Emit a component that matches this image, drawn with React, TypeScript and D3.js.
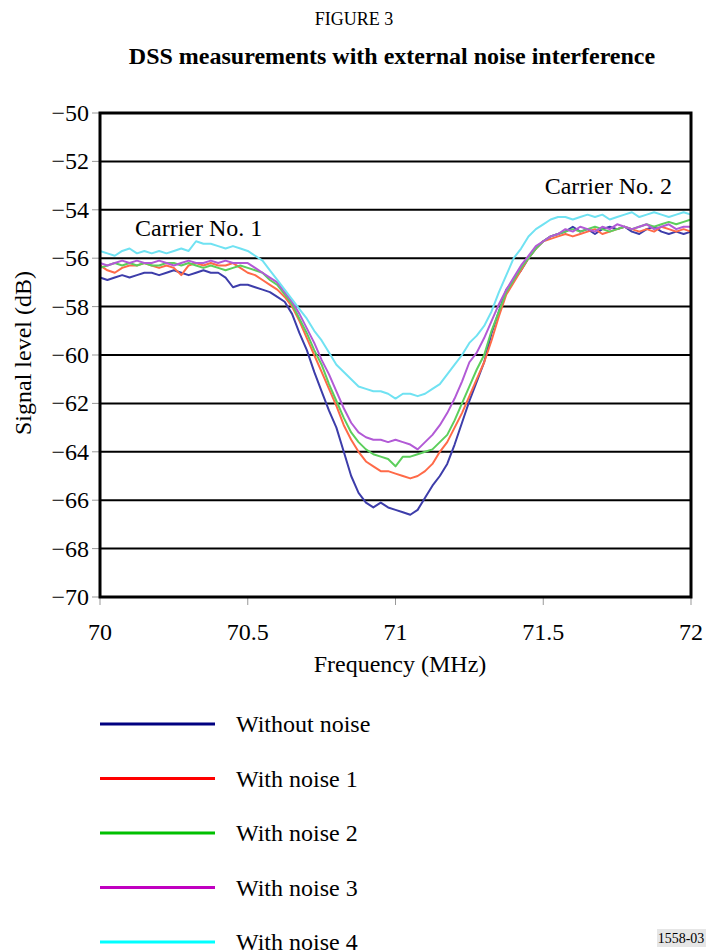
import React, { useEffect, useRef } from 'react';
import * as d3 from 'd3';

// frequency axis, 0.025 MHz steps from 70 to 72
const freqs: number[] = d3.range(81).map(i => 70 + i * 0.025);

const withoutNoise = [
  -56.8, -56.9, -56.8, -56.7, -56.8, -56.7, -56.6, -56.6, -56.7, -56.6,
  -56.5, -56.6, -56.7, -56.6, -56.5, -56.6, -56.6, -56.8, -57.2, -57.1,
  -57.1, -57.2, -57.3, -57.4, -57.6, -57.8, -58.3, -59.1, -59.8, -60.7,
  -61.5, -62.3, -63.0, -64.0, -65.0, -65.7, -66.1, -66.3, -66.1, -66.3,
  -66.4, -66.5, -66.6, -66.4, -65.9, -65.4, -65.0, -64.5, -63.7, -62.8,
  -61.9, -61.1, -60.3, -59.1, -58.2, -57.3, -56.9, -56.5, -56.0, -55.6,
  -55.3, -55.1, -55.0, -54.9, -54.7, -54.9, -54.8, -55.0, -54.8, -54.7,
  -54.8, -54.7, -54.9, -55.0, -54.8, -54.7, -54.9, -55.0, -54.9, -55.0,
  -54.9,
];

const withNoise1 = [
  -56.3, -56.5, -56.6, -56.4, -56.3, -56.3, -56.2, -56.3, -56.4, -56.3,
  -56.4, -56.7, -56.3, -56.2, -56.3, -56.2, -56.3, -56.3, -56.2, -56.4,
  -56.6, -56.7, -56.9, -57.1, -57.3, -57.6, -58.0, -58.6, -59.3, -60.0,
  -60.7, -61.4, -62.1, -62.9, -63.5, -64.0, -64.4, -64.6, -64.8, -64.8,
  -64.9, -65.0, -65.1, -65.0, -64.8, -64.5, -64.0, -63.6, -63.0, -62.4,
  -61.7, -61.0, -60.3, -59.4, -58.4, -57.5, -57.0, -56.5, -56.0, -55.6,
  -55.3, -55.2, -55.1, -55.0, -55.1, -55.0, -54.9, -54.8, -55.0, -54.9,
  -54.8, -54.7, -54.8, -54.9, -54.8, -54.9, -54.7, -54.8, -54.9, -54.8,
  -54.9,
];

const withNoise2 = [
  -56.4, -56.3, -56.2, -56.3, -56.2, -56.3, -56.2, -56.3, -56.3, -56.2,
  -56.2, -56.3, -56.2, -56.3, -56.4, -56.3, -56.4, -56.5, -56.4, -56.3,
  -56.4, -56.5, -56.6, -56.9, -57.1, -57.5, -57.9, -58.5, -59.1, -59.8,
  -60.4, -61.2, -61.9, -62.6, -63.2, -63.6, -63.9, -64.1, -64.2, -64.3,
  -64.6, -64.2, -64.2, -64.1, -64.0, -63.9, -63.6, -63.3, -62.7, -62.0,
  -61.3, -60.6, -60.0, -59.0, -58.2, -57.4, -56.9, -56.4, -56.0, -55.6,
  -55.3, -55.1, -55.0, -54.9, -54.8, -54.9, -54.8, -54.7, -54.8, -54.9,
  -54.8, -54.7, -54.8, -54.7, -54.6, -54.7, -54.6, -54.5, -54.6, -54.5,
  -54.4,
];

const withNoise3 = [
  -56.2, -56.3, -56.2, -56.1, -56.2, -56.1, -56.2, -56.2, -56.1, -56.2,
  -56.3, -56.2, -56.1, -56.2, -56.2, -56.1, -56.2, -56.1, -56.2, -56.2,
  -56.2, -56.4, -56.6, -56.8, -57.0, -57.4, -57.8, -58.3, -58.9, -59.5,
  -60.2, -60.8, -61.5, -62.2, -62.8, -63.2, -63.4, -63.5, -63.5, -63.6,
  -63.5, -63.6, -63.7, -63.9, -63.6, -63.3, -62.9, -62.4, -61.8, -61.1,
  -60.3, -59.9, -59.3, -58.6, -57.9, -57.3, -56.8, -56.3, -55.9, -55.5,
  -55.3, -55.1, -55.0, -54.8, -54.9, -54.7, -54.8, -54.9, -54.7, -54.8,
  -54.6, -54.7, -54.8, -54.7, -54.6, -54.8, -54.7, -54.6, -54.8, -54.7,
  -54.7,
];

const withNoise4 = [
  -55.7, -55.8, -55.9, -55.7, -55.6, -55.8, -55.7, -55.8, -55.7, -55.8,
  -55.7, -55.6, -55.7, -55.3, -55.4, -55.4, -55.5, -55.6, -55.5, -55.6,
  -55.7, -55.9, -56.1, -56.5, -56.9, -57.3, -57.7, -58.1, -58.5, -59.0,
  -59.4, -59.9, -60.4, -60.7, -61.0, -61.3, -61.4, -61.5, -61.5, -61.6,
  -61.8, -61.6, -61.6, -61.7, -61.6, -61.4, -61.2, -60.8, -60.4, -60.0,
  -59.5, -59.2, -58.8, -58.2, -57.4, -56.7, -56.0, -55.6, -55.1, -54.8,
  -54.6, -54.4, -54.3, -54.3, -54.4, -54.3, -54.2, -54.3, -54.2, -54.4,
  -54.3, -54.2, -54.1, -54.3, -54.2, -54.1, -54.2, -54.3, -54.2, -54.1,
  -54.2,
];

const seriesNames = ['Without noise', 'With noise 1', 'With noise 2', 'With noise 3', 'With noise 4'];
const seriesValues = [withoutNoise, withNoise1, withNoise2, withNoise3, withNoise4];
// plotted lines are a bit washed out, legend swatches are pure colours
const lineColors = ['#3d3daa', '#ff6a48', '#5ccf5c', '#b25ad6', '#70e2f2'];
const legendColors = ['#000080', '#ff0000', '#00c000', '#c000c0', '#00ffff'];

const yTicks = d3.range(-70, -49, 2);
const xTicks = [70, 70.5, 71, 71.5, 72];

const FONT = '"Liberation Serif", "Times New Roman", serif';

const App = () => {
  const ref = useRef<SVGSVGElement | null>(null);

  useEffect(() => {
    const svg = d3.select(ref.current);
    svg.selectAll('*').remove();

    const left = 100, right = 691, top = 113, bottom = 597;
    const x = d3.scaleLinear().domain([70, 72]).range([left, right]);
    const y = d3.scaleLinear().domain([-70, -50]).range([bottom, top]);

    // titles
    svg.append('text')
      .attr('x', 354).attr('y', 25)
      .attr('text-anchor', 'middle')
      .style('font-family', FONT).style('font-size', '18px')
      .text('FIGURE 3');
    svg.append('text')
      .attr('x', 392).attr('y', 64)
      .attr('text-anchor', 'middle')
      .style('font-family', FONT).style('font-size', '24px').style('font-weight', 'bold')
      .text('DSS measurements with external noise interference');

    // small grey ticks outside the frame
    svg.selectAll('.ytick')
      .data(yTicks)
      .enter()
      .append('line')
      .attr('x1', left - 8).attr('x2', left)
      .attr('y1', d => y(d)).attr('y2', d => y(d))
      .style('stroke', '#999').style('stroke-width', 1);
    svg.selectAll('.xtick')
      .data(xTicks)
      .enter()
      .append('line')
      .attr('x1', d => x(d)).attr('x2', d => x(d))
      .attr('y1', bottom).attr('y2', bottom + 8)
      .style('stroke', '#999').style('stroke-width', 1);

    // horizontal grid
    svg.selectAll('.grid')
      .data(yTicks.slice(1, -1))
      .enter()
      .append('line')
      .attr('x1', left).attr('x2', right)
      .attr('y1', d => y(d)).attr('y2', d => y(d))
      .style('stroke', '#000').style('stroke-width', 2);

    // curves
    const line = d3.line<number>()
      .x((d, i) => x(freqs[i]))
      .y(d => y(d));
    seriesValues.forEach((vals, i) => {
      svg.append('path')
        .datum(vals)
        .attr('d', line)
        .style('fill', 'none')
        .style('stroke', lineColors[i])
        .style('stroke-width', 2)
        .style('stroke-linejoin', 'round');
    });

    // frame
    svg.append('rect')
      .attr('x', left).attr('y', top)
      .attr('width', right - left).attr('height', bottom - top)
      .style('fill', 'none').style('stroke', '#000').style('stroke-width', 3);

    // tick labels
    svg.selectAll('.ylab')
      .data(yTicks)
      .enter()
      .append('text')
      .attr('x', 89).attr('y', d => y(d) + 8)
      .attr('text-anchor', 'end')
      .style('font-family', FONT).style('font-size', '24px')
      .text(d => d3.format('')(d).replace('-', '\u2212'));
    svg.selectAll('.xlab')
      .data(xTicks)
      .enter()
      .append('text')
      .attr('x', d => x(d)).attr('y', 640)
      .attr('text-anchor', 'middle')
      .style('font-family', FONT).style('font-size', '24px')
      .text(d => String(d));

    svg.append('text')
      .attr('x', 400).attr('y', 672)
      .attr('text-anchor', 'middle')
      .style('font-family', FONT).style('font-size', '24px')
      .text('Frequency (MHz)');
    svg.append('text')
      .attr('transform', 'translate(31,353) rotate(-90)')
      .attr('text-anchor', 'middle')
      .style('font-family', FONT).style('font-size', '24px')
      .text('Signal level (dB)');

    svg.append('text')
      .attr('x', 135).attr('y', 236)
      .style('font-family', FONT).style('font-size', '24px')
      .text('Carrier No. 1');
    svg.append('text')
      .attr('x', 672).attr('y', 194)
      .attr('text-anchor', 'end')
      .style('font-family', FONT).style('font-size', '24px')
      .text('Carrier No. 2');

    // legend (last entry runs off the bottom edge, as in the original page)
    const legend = svg.selectAll('.legend')
      .data(seriesNames)
      .enter()
      .append('g')
      .attr('transform', (d, i) => `translate(0,${724 + i * 54.5})`);
    legend.append('line')
      .attr('x1', 100).attr('x2', 215)
      .attr('y1', 0).attr('y2', 0)
      .style('stroke', (d, i) => legendColors[i])
      .style('stroke-width', 3);
    legend.append('text')
      .attr('x', 236).attr('y', 8)
      .style('font-family', FONT).style('font-size', '24px')
      .text(d => d);

    // figure reference
    svg.append('rect')
      .attr('x', 657).attr('y', 929).attr('width', 49).attr('height', 18)
      .style('fill', '#e6e6e6');
    svg.append('text')
      .attr('x', 681).attr('y', 943)
      .attr('text-anchor', 'middle')
      .style('font-family', FONT).style('font-size', '14px')
      .text('1558-03');
  }, []);

  return (
    <svg
      ref={ref}
      width={709}
      height={952}
      style={{ position: 'absolute', left: 0, top: 0, background: '#fff' }}
    />
  );
};

export default App;
